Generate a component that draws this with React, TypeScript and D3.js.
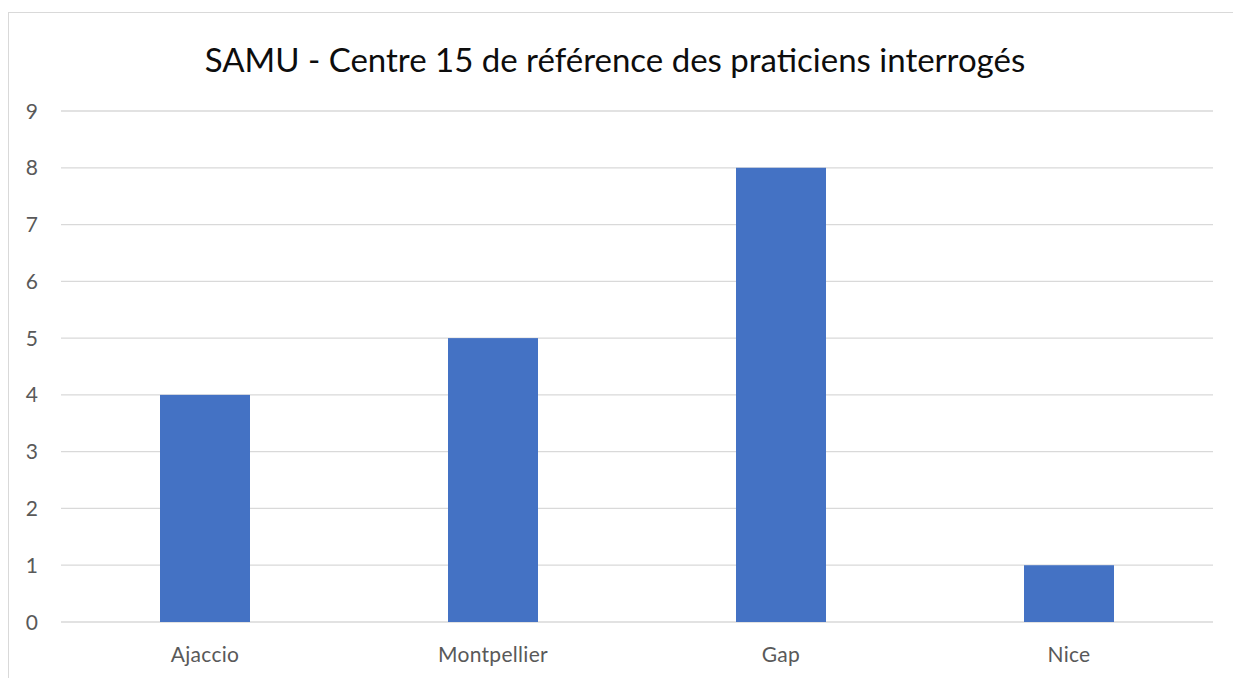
import React from "react";
import * as d3 from "d3";

const categories = ["Ajaccio", "Montpellier", "Gap", "Nice"];
const values = [4, 5, 8, 1];
const yTicks = [0, 1, 2, 3, 4, 5, 6, 7, 8, 9];
const title = "SAMU - Centre 15 de référence des praticiens interrogés";

export default function App() {
  const W = 1233, H = 678;
  const left = 61, right = 1213, top = 111, bottom = 622;
  const x = d3.scaleBand<string>().domain(categories).range([left, right]).paddingInner(0.6875).paddingOuter(0.34375);
  const y = d3.scaleLinear().domain([0, 9]).range([bottom, top]);
  const font = "Lato, 'Open Sans', sans-serif";
  return (
    <svg width={W} height={H} style={{ position: "absolute", left: 0, top: 0, background: "#fff" }}>
      <rect x={8.5} y={12.5} width={1260} height={700} fill="#fff" stroke="#d9d9d9" strokeWidth={1} />
      <text x={615} y={72} textAnchor="middle" fontFamily={font} fontSize={33} fill="#0d0d0d">{title}</text>
      {yTicks.map(t => (
        <g key={t}>
          <line x1={left} x2={right} y1={y(t)} y2={y(t)} stroke="#d9d9d9" strokeWidth={1.3} />
          <text x={38} y={y(t) + 7.5} textAnchor="end" fontFamily={font} fontSize={21} fill="#595959">{t}</text>
        </g>
      ))}
      {categories.map((c, i) => (
        <g key={c}>
          <rect x={x(c)} y={y(values[i])} width={x.bandwidth()} height={y(0) - y(values[i])} fill="#4472c4" />
          <text x={(x(c) as number) + x.bandwidth() / 2} y={662} textAnchor="middle" fontFamily={font} fontSize={21} letterSpacing={0.3} fill="#595959">{c}</text>
        </g>
      ))}
    </svg>
  );
}
